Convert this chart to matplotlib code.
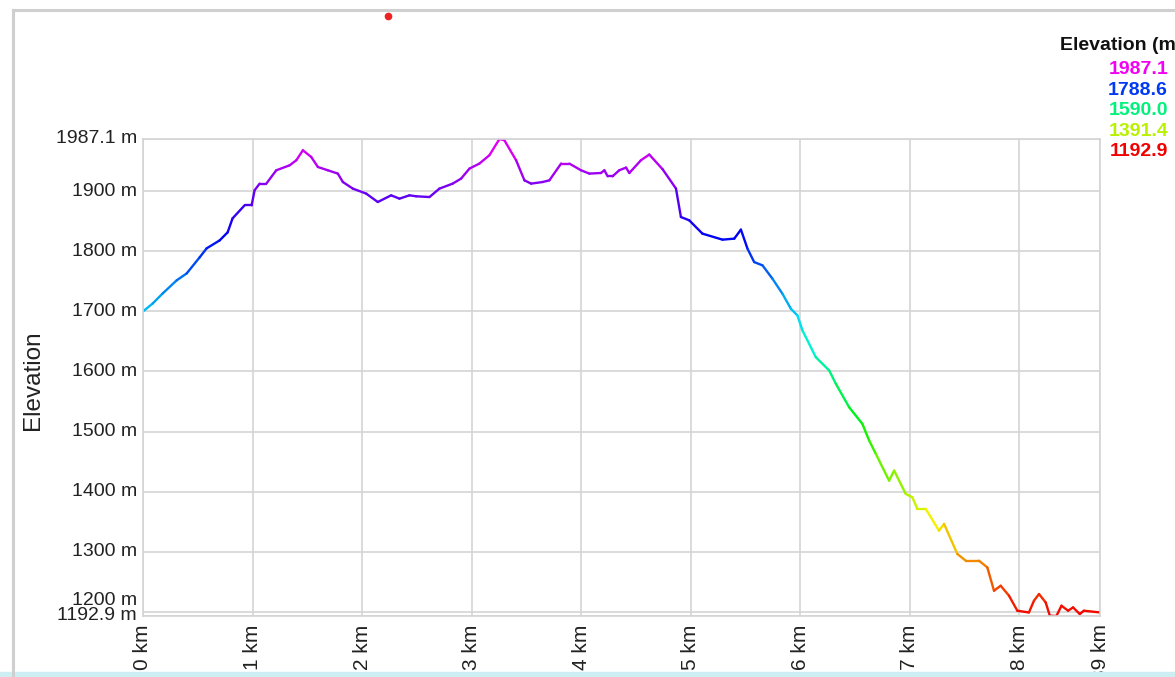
import numpy as np
import matplotlib
matplotlib.use("Agg")
import matplotlib.pyplot as plt
from matplotlib.collections import LineCollection
from matplotlib.colors import ListedColormap, Normalize, hsv_to_rgb
from matplotlib.lines import Line2D
from matplotlib.patches import Rectangle

plt.rcParams['font.family'] = ['Liberation Sans', 'DejaVu Sans']

# profile
dist_km = [
    0.000, 0.089, 0.180, 0.307, 0.399, 0.517, 0.581, 0.700, 0.773, 0.818,
    0.928, 0.992, 1.019, 1.065, 1.126, 1.217, 1.339, 1.400, 1.460, 1.536,
    1.597, 1.688, 1.779, 1.825, 1.916, 2.038, 2.144, 2.266, 2.342, 2.433,
    2.495, 2.616, 2.707, 2.828, 2.905, 2.981, 3.072, 3.163, 3.255, 3.300,
    3.407, 3.483, 3.544, 3.650, 3.711, 3.818, 3.893, 4.000, 4.076, 4.182,
    4.213, 4.243, 4.288, 4.349, 4.411, 4.441, 4.547, 4.623, 4.745, 4.867,
    4.912, 4.988, 5.109, 5.292, 5.399, 5.460, 5.520, 5.581, 5.657, 5.748,
    5.839, 5.916, 5.976, 6.022, 6.144, 6.266, 6.327, 6.448, 6.569, 6.631,
    6.692, 6.813, 6.859, 6.965, 7.026, 7.071, 7.148, 7.269, 7.315, 7.436,
    7.513, 7.634, 7.710, 7.771, 7.832, 7.908, 7.984, 8.090, 8.136, 8.182,
    8.243, 8.281, 8.341, 8.387, 8.448, 8.493, 8.554, 8.592, 8.739,
]
elev_m = [
    1700.0, 1713.3, 1730.0, 1751.7, 1763.3, 1790.0, 1805.0, 1818.3, 1831.7, 1855.0,
    1876.7, 1876.7, 1901.7, 1912.8, 1912.8, 1935.0, 1943.3, 1951.7, 1968.3, 1957.2,
    1940.5, 1935.0, 1929.5, 1915.5, 1904.5, 1896.2, 1882.2, 1893.3, 1887.8, 1893.3,
    1891.7, 1890.5, 1904.5, 1912.8, 1921.2, 1937.8, 1946.2, 1960.0, 1987.1, 1985.0,
    1951.7, 1918.3, 1912.8, 1915.5, 1918.3, 1946.2, 1946.2, 1935.0, 1929.5, 1930.5,
    1935.0, 1925.0, 1925.0, 1935.0, 1939.5, 1930.5, 1951.7, 1961.2, 1936.7, 1904.5,
    1857.2, 1851.7, 1829.5, 1819.5, 1821.2, 1836.2, 1804.5, 1782.2, 1776.7, 1754.5,
    1729.5, 1704.5, 1693.3, 1668.3, 1623.8, 1601.7, 1579.5, 1540.5, 1512.8, 1485.0,
    1462.8, 1418.3, 1435.0, 1396.2, 1390.5, 1371.2, 1371.2, 1335.0, 1346.2, 1296.2,
    1285.0, 1285.0, 1273.8, 1235.0, 1243.3, 1226.7, 1201.7, 1198.8, 1218.3, 1229.5,
    1215.5, 1193.3, 1192.9, 1210.0, 1201.7, 1207.2, 1196.2, 1201.7, 1198.8,
]

y_ticks = [1192.9, 1200, 1300, 1400, 1500, 1600, 1700, 1800, 1900, 1987.1]
y_tick_labels = ["1192.9 m", "1200 m", "1300 m", "1400 m", "1500 m",
                 "1600 m", "1700 m", "1800 m", "1900 m", "1987.1 m"]
x_ticks = [0, 1, 2, 3, 4, 5, 6, 7, 8, 8.739]
x_tick_labels = ["0 km", "1 km", "2 km", "3 km", "4 km", "5 km",
                 "6 km", "7 km", "8 km", "8.739 km"]
legend_levels = [1987.1, 1788.6, 1590.0, 1391.4, 1192.9]
legend_labels = ["1987.1", "1788.6", "1590.0", "1391.4", "1192.9"]

W, H = 1175, 677
fig = plt.figure(figsize=(W / 100, H / 100), dpi=100)
fig.patch.set_facecolor("white")

# colour scale: red (low) -> magenta (high)
hues = np.linspace(0, 300 / 360, 256)
cmap = ListedColormap(hsv_to_rgb(np.column_stack([hues, np.ones(256), np.full(256, 0.95)])))
norm = Normalize(min(elev_m), max(elev_m))

ax = fig.add_axes([143 / W, 61 / H, 957 / W, 477 / H])
x = np.array(dist_km)
y = np.array(elev_m)
pts = np.column_stack([x, y])
segs = np.stack([pts[:-1], pts[1:]], axis=1)
lc = LineCollection(segs, colors=cmap(norm((y[:-1] + y[1:]) / 2)),
                    linewidths=1.7, capstyle="round", joinstyle="round")
ax.add_collection(lc)

ax.set_xlim(0, 8.739)
ax.set_ylim(1192.9, 1987.1)
ax.set_xticks(x_ticks, x_tick_labels, rotation=90, fontsize=15)
ax.set_yticks(y_ticks, [""] * len(y_ticks))
ax.tick_params(length=0, pad=6)
for lab in ax.get_xticklabels():
    lab.set_verticalalignment("top")
    lab.set_color("#222222")
ax.grid(color="#d4d4d4", lw=1.2)
for sp in ax.spines.values():
    sp.set_color("#d4d4d4")
    sp.set_linewidth(1.2)

# y tick labels, 1200 nudged up so it does not clash with the minimum
for val, lab in zip(y_ticks, y_tick_labels):
    dy = 8 if val == 1200 else 0
    ax.annotate(lab, xy=(0, val), xycoords=("axes fraction", "data"),
                xytext=(-4.5, dy), textcoords="offset points",
                ha="right", va="center", fontsize=14, color="#222222")

ax.set_ylabel("Elevation", fontsize=17.5, color="#222222")
ax.yaxis.set_label_coords(-99 / 957, 236 / 477)

# colour legend at the top right
fig.text(1060 / W, 1 - 46 / H, "Elevation (m)", fontsize=14, fontweight="bold",
         ha="left", va="center", color="#111111")
for i, (lv, lab) in enumerate(zip(legend_levels, legend_labels)):
    fig.text(1168 / W, 1 - (70 + 20.4 * i) / H, lab, fontsize=14, fontweight="bold",
             ha="right", va="center", color=cmap(norm(lv)))

# page frame around the chart panel
fig.add_artist(Line2D([13 / W, 13 / W], [0, 1 - 10 / H], color="#cfcfcf", lw=2.2,
                      transform=fig.transFigure))
fig.add_artist(Line2D([13 / W, 1], [1 - 10 / H, 1 - 10 / H], color="#cfcfcf", lw=2.2,
                      transform=fig.transFigure))
fig.add_artist(Rectangle((0, 0), 1, 5 / H, color="#cdeff3", transform=fig.transFigure))
fig.add_artist(Line2D([388 / W], [1 - 16 / H], marker="o", ms=4.5, color="#ee2222",
                      transform=fig.transFigure))

fig.savefig("out.png", dpi=100)
